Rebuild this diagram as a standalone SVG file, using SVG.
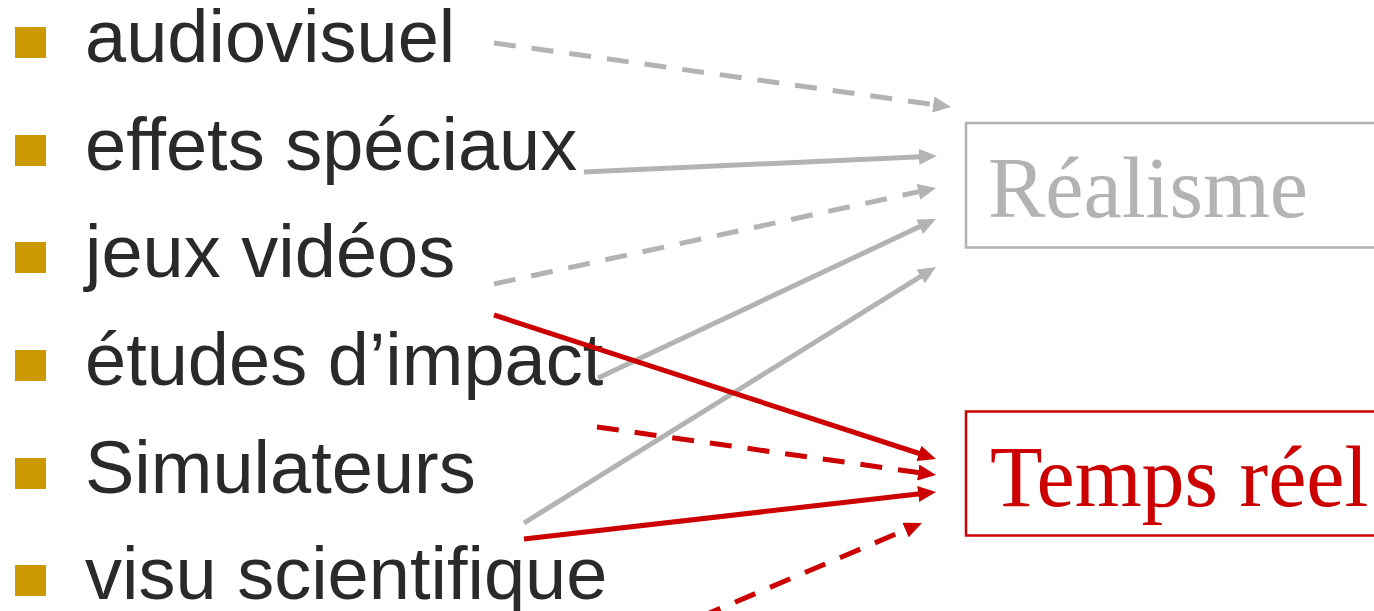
<svg xmlns="http://www.w3.org/2000/svg" width="1374" height="611" viewBox="0 0 1374 611">
  <style>
    .bullet { fill: #CC9900; }
    .item { font-family: "Liberation Sans", Arial, sans-serif; font-size: 74px; fill: #2a2a2a; }
    .target { font-family: "Liberation Serif", "Times New Roman", serif; font-size: 86px; }
    .gray { stroke: #b3b3b3; stroke-width: 5; fill: none; }
    .red { stroke: #cc0000; stroke-width: 5; fill: none; }
    .dash { stroke-dasharray: 22 16; }
  </style>
  <defs>
    <marker id="ah-gray" markerUnits="userSpaceOnUse" markerWidth="18" markerHeight="16" refX="2" refY="8" orient="auto">
      <path d="M0,0 L18,8 L0,16 z" fill="#b3b3b3"/>
    </marker>
    <marker id="ah-red" markerUnits="userSpaceOnUse" markerWidth="18" markerHeight="16" refX="2" refY="8" orient="auto">
      <path d="M0,0 L18,8 L0,16 z" fill="#cc0000"/>
    </marker>
  </defs>
  <rect width="1374" height="611" fill="#ffffff"/>

  <g id="item-audiovisuel">
    <rect class="bullet" x="15" y="27" width="31" height="31"/>
    <text class="item" x="85" y="62">audiovisuel</text>
  </g>
  <g id="item-effets">
    <rect class="bullet" x="15" y="135" width="31" height="31"/>
    <text class="item" x="85" y="170">effets spéciaux</text>
  </g>
  <g id="item-jeux">
    <rect class="bullet" x="15" y="242" width="31" height="31"/>
    <text class="item" x="85" y="277">jeux vidéos</text>
  </g>
  <g id="item-etudes">
    <rect class="bullet" x="15" y="350" width="31" height="31"/>
    <text class="item" x="85" y="385">études d’impact</text>
  </g>
  <g id="item-simulateurs">
    <rect class="bullet" x="15" y="458" width="31" height="31"/>
    <text class="item" x="85" y="493">Simulateurs</text>
  </g>
  <g id="item-visu">
    <rect class="bullet" x="15" y="565" width="31" height="31"/>
    <text class="item" x="85" y="599">visu scientifique</text>
  </g>

  <g id="realisme">
    <rect x="966" y="123" width="420" height="124.5" fill="none" stroke="#b3b3b3" stroke-width="2.5"/>
    <text class="target" x="988" y="217" fill="#b3b3b3">Réalisme</text>
  </g>
  <g id="temps-reel">
    <rect x="966" y="411.5" width="420" height="124" fill="none" stroke="#cc0000" stroke-width="2.5"/>
    <text class="target" x="990" y="506" fill="#cc0000">Temps réel</text>
  </g>

  <g id="connectors">
    <line class="gray dash" x1="494" y1="43" x2="935.2" y2="104.8" marker-end="url(#ah-gray)"/>
    <line class="gray" x1="584" y1="172" x2="921" y2="156.7" marker-end="url(#ah-gray)"/>
    <line class="gray dash" x1="494" y1="284" x2="920.4" y2="191.4" marker-end="url(#ah-gray)"/>
    <line class="gray" x1="598" y1="378" x2="921.5" y2="225.8" marker-end="url(#ah-gray)"/>
    <line class="gray" x1="524" y1="523" x2="922.4" y2="275.4" marker-end="url(#ah-gray)"/>
    <line class="red" x1="494" y1="315" x2="920.8" y2="454" marker-end="url(#ah-red)"/>
    <line class="red dash" x1="597" y1="427" x2="920.2" y2="472.8" marker-end="url(#ah-red)"/>
    <line class="red" x1="524" y1="539" x2="920.1" y2="493.8" marker-end="url(#ah-red)"/>
    <line class="red dash" x1="700" y1="617" x2="907.3" y2="529.2" marker-end="url(#ah-red)"/>
  </g>
</svg>
